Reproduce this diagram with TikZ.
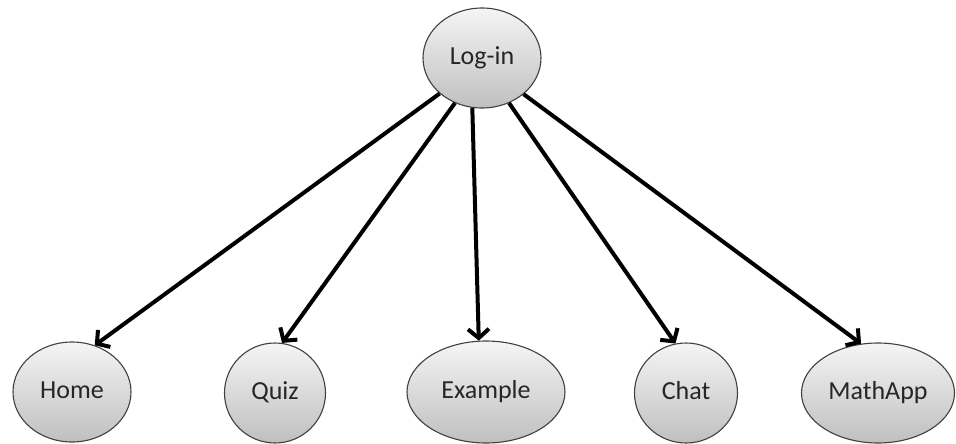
\documentclass[tikz,border=0pt]{standalone}
\usepackage{fontspec}
\setmainfont{Carlito}
\usetikzlibrary{shapes.geometric,arrows.meta}
\begin{document}
\begin{tikzpicture}[x=1pt,y=-1pt,
  bubble/.style={ellipse,draw=black!75,line width=1.1pt,inner sep=0pt,
    top color=black!4,bottom color=black!25,
    text height=17pt,text depth=4pt,
    font=\fontsize{26}{30}\selectfont,text=black!85},
  link/.style={line width=4pt,-{Straight Barb[length=9pt,width=21pt,line width=4pt]}}]
\useasboundingbox (0,0) rectangle (956,444);
\node[bubble,minimum width=118pt,minimum height=100pt] (login) at (482,58) {Log-in};
\node[bubble,minimum width=118pt,minimum height=100pt] (home) at (72,392) {Home};
\node[bubble,minimum width=101pt,minimum height=100pt] (quiz) at (275,393) {Quiz};
\node[bubble,minimum width=158pt,minimum height=102pt] (example) at (486,392) {Example};
\node[bubble,minimum width=103pt,minimum height=100pt] (chat) at (686,393) {Chat};
\node[bubble,minimum width=153pt,minimum height=100pt] (mathapp) at (878,393) {MathApp};
\draw[link] (login.220) -- (home.64);
\draw[link] (login.239) -- (quiz.82);
\draw[link] (login.259) -- (example.98);
\draw[link] (login.301) -- (chat.102);
\draw[link] (login.319) -- (mathapp.109);
\end{tikzpicture}
\end{document}
